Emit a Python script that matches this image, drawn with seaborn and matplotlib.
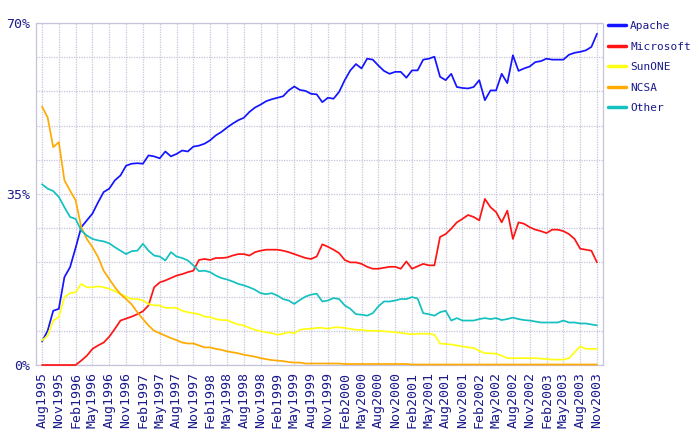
import numpy as np
import pandas as pd
import matplotlib
matplotlib.use("Agg")
import matplotlib.pyplot as plt
from matplotlib.lines import Line2D
import seaborn as sns

# monthly share (%) Aug1995 .. Nov2003
months = pd.date_range("1995-08-01", "2003-11-01", freq="MS")

apache = [4.8, 7.0, 11.1, 11.5, 18.0, 20.0, 24.0, 28.2, 29.6, 31.0,
          33.3, 35.4, 36.1, 37.8, 38.8, 40.8, 41.2, 41.3, 41.2, 42.9,
          42.7, 42.3, 43.7, 42.7, 43.2, 43.9, 43.7, 44.7, 44.9, 45.3,
          46.0, 47.0, 47.7, 48.6, 49.4, 50.1, 50.6, 51.8, 52.7, 53.3,
          54.0, 54.4, 54.7, 55.0, 56.2, 57.0, 56.3, 56.1, 55.5, 55.4,
          53.8, 54.7, 54.5, 55.9, 58.3, 60.3, 61.6, 60.7, 62.7, 62.5,
          61.3, 60.2, 59.6, 60.0, 60.0, 58.8, 60.3, 60.3, 62.5, 62.7,
          63.1, 59.0, 58.3, 59.6, 56.9, 56.7, 56.6, 56.9, 58.3, 54.2,
          56.2, 56.2, 59.6, 57.7, 63.4, 60.2, 60.7, 61.1, 62.0, 62.2,
          62.7, 62.5, 62.5, 62.5, 63.5, 63.9, 64.1, 64.4, 65.1, 67.8]

microsoft = [0.0, 0.0, 0.0, 0.0, 0.0, 0.0, 0.0, 0.9, 1.9, 3.3,
             4.0, 4.6, 5.8, 7.4, 9.1, 9.5, 9.9, 10.4, 11.0, 12.2,
             15.9, 16.9, 17.3, 17.8, 18.3, 18.6, 19.0, 19.3, 21.5, 21.7,
             21.5, 21.9, 21.9, 22.0, 22.4, 22.7, 22.7, 22.4, 23.1, 23.4,
             23.6, 23.6, 23.6, 23.4, 23.1, 22.7, 22.3, 21.9, 21.7, 22.2,
             24.7, 24.2, 23.6, 22.9, 21.5, 21.0, 21.0, 20.7, 20.1, 19.7,
             19.7, 19.9, 20.1, 20.1, 19.7, 21.2, 19.7, 20.2, 20.7, 20.4,
             20.4, 26.2, 26.8, 27.9, 29.2, 29.9, 30.7, 30.3, 29.6, 34.0,
             32.3, 31.3, 29.2, 31.6, 25.8, 29.2, 28.9, 28.2, 27.7, 27.4,
             27.0, 27.7, 27.7, 27.4, 26.8, 25.8, 23.8, 23.6, 23.4, 21.0]

sunone = [5.0, 6.0, 9.1, 9.8, 13.9, 14.7, 14.9, 16.6, 15.9, 15.9,
          16.1, 15.9, 15.6, 15.1, 14.5, 14.0, 13.5, 13.5, 13.2, 12.5,
          12.2, 12.2, 11.7, 11.7, 11.7, 11.1, 10.8, 10.6, 10.4, 9.9,
          9.8, 9.4, 9.2, 9.2, 8.7, 8.3, 8.1, 7.6, 7.2, 6.9,
          6.7, 6.5, 6.2, 6.4, 6.7, 6.5, 7.2, 7.4, 7.4, 7.6,
          7.6, 7.4, 7.7, 7.7, 7.6, 7.4, 7.2, 7.2, 7.0, 7.0,
          7.0, 6.9, 6.8, 6.7, 6.6, 6.4, 6.3, 6.4, 6.4, 6.4,
          6.2, 4.4, 4.3, 4.2, 4.0, 3.8, 3.6, 3.5, 2.9, 2.4,
          2.4, 2.3, 1.9, 1.4, 1.4, 1.4, 1.4, 1.4, 1.4, 1.3,
          1.2, 1.1, 1.1, 1.1, 1.4, 2.6, 3.8, 3.3, 3.3, 3.3]

ncsa = [52.9, 50.7, 44.6, 45.6, 37.8, 35.7, 33.7, 28.2, 25.8, 24.1,
        22.1, 19.3, 17.6, 15.9, 14.5, 13.5, 12.4, 10.8, 9.4, 8.1,
        7.0, 6.5, 6.0, 5.5, 5.1, 4.6, 4.4, 4.4, 4.0, 3.6,
        3.6, 3.3, 3.1, 2.8, 2.6, 2.4, 2.1, 1.9, 1.7, 1.4,
        1.2, 1.0, 0.9, 0.8, 0.6, 0.5, 0.5, 0.3, 0.3, 0.3,
        0.3, 0.3, 0.3, 0.3, 0.2, 0.2, 0.2, 0.2, 0.2, 0.2,
        0.2, 0.2, 0.2, 0.2, 0.2, 0.2, 0.1, 0.1, 0.1, 0.1,
        0.1, 0.1, 0.1, 0.1, 0.1, 0.1, 0.1, 0.1, 0.1, 0.1,
        0.1, 0.1, 0.1, 0.1, 0.1, 0.1, 0.1, 0.1, 0.1, 0.1,
        0.1, 0.1, 0.1, 0.1, 0.1, 0.1, 0.1, 0.1, 0.1, 0.1]

other = [37.0, 36.1, 35.6, 34.4, 32.3, 30.3, 29.9, 27.5, 26.5, 25.8,
         25.5, 25.3, 24.9, 24.1, 23.4, 22.7, 23.3, 23.4, 24.8, 23.4,
         22.4, 22.2, 21.4, 23.1, 22.2, 21.9, 21.4, 20.4, 19.2, 19.3,
         19.0, 18.3, 17.8, 17.5, 17.1, 16.6, 16.3, 15.9, 15.4, 14.7,
         14.5, 14.7, 14.2, 13.5, 13.2, 12.5, 13.3, 14.0, 14.4, 14.6,
         13.0, 13.2, 13.7, 13.5, 12.2, 11.5, 10.4, 10.3, 10.1, 10.6,
         12.0, 13.0, 13.0, 13.2, 13.5, 13.5, 13.9, 13.6, 10.6, 10.4,
         10.1, 10.8, 11.1, 9.1, 9.6, 9.1, 9.1, 9.1, 9.4, 9.6,
         9.4, 9.6, 9.2, 9.4, 9.7, 9.4, 9.2, 9.1, 8.9, 8.7,
         8.7, 8.7, 8.7, 9.1, 8.7, 8.7, 8.5, 8.5, 8.3, 8.1]

servers = ["Apache", "Microsoft", "SunONE", "NCSA", "Other"]
colors = ["#1414ff", "#ff1414", "#ffff14", "#ffaa00", "#14c0c0"]

df = pd.DataFrame({"Apache": apache, "Microsoft": microsoft, "SunONE": sunone,
                   "NCSA": ncsa, "Other": other})
df["idx"] = np.arange(len(months))
long_df = df.melt(id_vars="idx", var_name="server", value_name="share")

sns.set_style("white")
plt.rcParams["font.family"] = ["DejaVu Sans Mono", "DejaVu Sans"]
navy = "#1a1a8c"
grid_col = "#c4c4dc"

fig = plt.figure(figsize=(6.99, 4.47), dpi=100)
ax = fig.add_axes([36 / 699, 1 - 365 / 447, 567 / 699, 342 / 447])

sns.lineplot(data=long_df, x="idx", y="share", hue="server", hue_order=servers,
             palette=colors, estimator=None, linewidth=1.25, legend=False, ax=ax,
             zorder=3)
for ln in ax.lines:
    ln.set_clip_on(False)

pad = 6 / 5.6
ax.set_xlim(-pad, len(months) - 1 + pad)
ax.set_ylim(0, 70)

tick_idx = np.arange(0, len(months), 3)
ax.set_xticks(tick_idx)
ax.set_xticklabels([months[i].strftime("%b%Y") for i in tick_idx],
                   rotation=90, fontsize=9.5, color=navy)
ax.set_yticks(np.arange(0, 71, 7))
ax.set_yticklabels(["0%" if v == 0 else "35%" if v == 35 else "70%" if v == 70 else ""
                    for v in range(0, 71, 7)], fontsize=9.5, color=navy)
ax.tick_params(axis="both", length=0)
ax.tick_params(axis="x", pad=5)
ax.tick_params(axis="y", pad=4)
ax.set_xlabel("")
ax.set_ylabel("")
ax.grid(True, color=grid_col, linestyle=(0, (1, 1)), linewidth=0.9)
for sp in ax.spines.values():
    sp.set_color(grid_col)
    sp.set_linestyle((0, (1, 1)))
    sp.set_linewidth(0.9)

handles = [Line2D([], [], color=c, linewidth=2.5) for c in colors]
fig.legend(handles, servers, loc="upper left",
           bbox_to_anchor=(608 / 699, 1 - 21 / 447), frameon=False,
           fontsize=8, handlelength=1.6, handletextpad=0.4, labelspacing=0.95,
           borderpad=0, borderaxespad=0, labelcolor=navy)

fig.savefig("out.png", dpi=100)
